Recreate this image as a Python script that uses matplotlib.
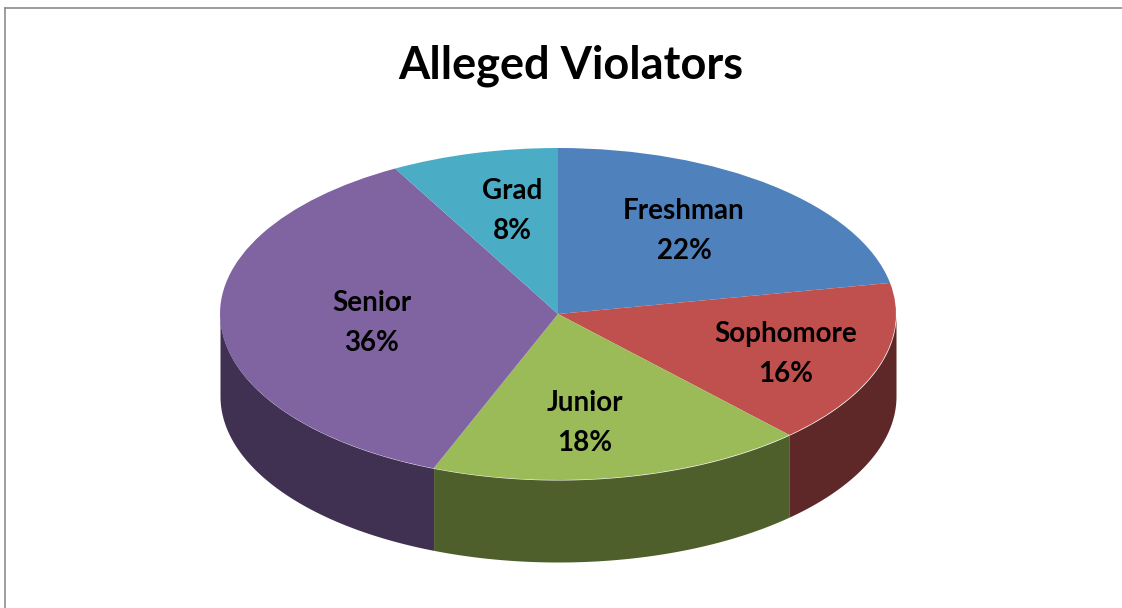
import numpy as np
import matplotlib
matplotlib.use("Agg")
import matplotlib.pyplot as plt

categories = ["Freshman", "Sophomore", "Junior", "Senior", "Grad"]
values = [22, 16, 18, 36, 8]
top_colors = ["#4F81BD", "#C0504D", "#9BBB59", "#8064A2", "#4BACC6"]
side_colors = ["#2A4467", "#5F2828", "#4F5F2B", "#403152", "#215968"]
title = "Alleged Violators"

# layout in pixels
W, H = 1122, 608
CX, CY, RX, RY, DEPTH = 558, 314, 338, 166, 82
label_px = [(684, 231), (786, 354), (585, 423), (372, 323), (512, 211)]

plt.rcParams["font.family"] = ["Lato", "DejaVu Sans"]
fig = plt.figure(figsize=(W / 100, H / 100), dpi=100, facecolor="white")
ax = fig.add_axes([0, 0, 1, 1])

# side wall first, only the front half of the rim is visible
total = sum(values)
start = 0.0
depth = DEPTH / RY
for v, c in zip(values, side_colors):
    end = start + v / total * 360
    a0, a1 = max(start, 90), min(end, 270)
    if a1 > a0:
        t = np.radians(np.linspace(a0, a1, 120))
        x, y = np.sin(t), np.cos(t)
        ax.fill_between(x, y, y - depth, color=c, linewidth=0, zorder=1)
    start = end

wedges, _ = ax.pie(values, colors=top_colors, startangle=90, counterclock=False,
                   radius=1, center=(0, 0),
                   wedgeprops=dict(linewidth=0, zorder=2))

ax.set_aspect("auto")
ax.set_xlim(-CX / RX, (W - CX) / RX)
ax.set_ylim(-(H - CY) / RY, CY / RY)
ax.axis("off")

for cat, v, (px, py) in zip(categories, values, label_px):
    fig.text(px / W, 1 - py / H, f"{cat}\n{v}%", ha="center", va="center",
             fontsize=20, fontweight="bold", color="black", linespacing=1.62, zorder=5)

fig.text(571 / W, 1 - 66 / H, title, ha="center", va="center",
         fontsize=32.5, fontweight="bold", color="black")

# chart frame: top and left edges show in the crop
frame = dict(color="#8c8c8c", linewidth=1.2, transform=fig.transFigure)
fig.add_artist(plt.Line2D([5 / W, 1], [1 - 8 / H, 1 - 8 / H], **frame))
fig.add_artist(plt.Line2D([5 / W, 5 / W], [0, 1 - 8 / H], **frame))

fig.savefig("out.png", dpi=100, facecolor="white")
